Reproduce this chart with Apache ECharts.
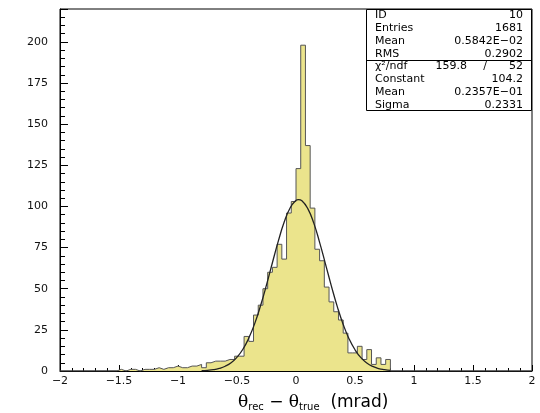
<!DOCTYPE html>
<html><head><meta charset="utf-8">
<script src="https://cdn.jsdelivr.net/npm/echarts@6/dist/echarts.min.js"></script>
<style>html,body{margin:0;padding:0;background:#fff}#c{width:540px;height:413px}</style>
</head><body><div id="c"></div>
<script>
// Histogram: 100 bins from -2 to 2
const binLow = -2;
const binWidth = 0.04;
const counts = [
  0,0,0,0,0,0,0,0,0,0,0,0,
  1,0,1,1,0,1,1,1,2,1,2,2,3,2,2,3,3,4,2,5,6,6,6,7,7,9,9,
  21,18,34,40,50,60,63,77,68,96,103,
  123,198,137,99,74,67,51,42,36,31,23,11,11,15,7,13,4,8,4,7,
  0,0,0,0,0,0,0,0,0,0,0,0,0,0,0,0,0,0,0,0,0,0,0,0,0,0,0,0,0,0
];
// Fit curve points
const fitX = [-0.8,-0.75,-0.7,-0.65,-0.6,-0.55,-0.5,-0.45,-0.4,-0.35,-0.3,-0.25,-0.2,-0.15,-0.1,-0.05,0,0.02,0.05,0.1,0.15,0.2,0.25,0.3,0.35,0.4,0.45,0.5,0.55,0.6,0.65,0.7,0.75,0.8];
const fitY = [0.2,0.4,0.8,1.6,2.9,5.0,8.4,13.2,20.0,28.8,39.8,52.3,65.8,78.9,90.5,99.1,103.7,104.2,103.5,98.7,90.0,78.2,65.0,51.6,39.1,28.3,19.5,12.9,8.1,4.9,2.8,1.5,0.8,0.4];
const xTickLabels = ['−2','−1.5','−1','−0.5','0','0.5','1','1.5','2'];
const yTickLabels = ['0','25','50','75','100','125','150','175','200'];
const statsLabels = ['ID','Entries','Mean','RMS','χ²/ndf','Constant','Mean','Sigma'];
const statsValues = ['10','1681','0.5842E−02','0.2902','52','104.2','0.2357E−01','0.2331'];
const chi2Value = '159.8';

const histData = counts.map((c, k) => [binLow + k * binWidth, c]);
histData.push([binLow + counts.length * binWidth, 0]);
const fitData = fitX.map((x, i) => [x, fitY[i]]);

const chart = echarts.init(document.getElementById('c'), null, {renderer: 'canvas'});
const F = 'DejaVu Sans';
const graphic = [
  {type: 'rect', z: 100, shape: {x: 366.5, y: 9.5, width: 165, height: 101}, style: {fill: '#fff', stroke: '#000', lineWidth: 1}},
  {type: 'line', z: 101, shape: {x1: 366.5, y1: 60.5, x2: 531.5, y2: 60.5}, style: {stroke: '#000', lineWidth: 1}}
];
statsLabels.forEach((t, i) => {
  const y = 15.5 + i * 12.75;
  graphic.push({type: 'text', z: 102, style: {text: t, x: 375, y: y, font: '11px "' + F + '"', fill: '#000', textVerticalAlign: 'middle', textAlign: 'left'}});
  graphic.push({type: 'text', z: 102, style: {text: statsValues[i], x: 523, y: y, font: '11px "' + F + '"', fill: '#000', textVerticalAlign: 'middle', textAlign: 'right'}});
});
graphic.push({type: 'text', z: 102, style: {text: chi2Value, x: 467, y: 15.5 + 4 * 12.75, font: '11px "' + F + '"', fill: '#000', textVerticalAlign: 'middle', textAlign: 'right'}});
graphic.push({type: 'text', z: 102, style: {text: '/', x: 485, y: 15.5 + 4 * 12.75, font: '11px "' + F + '"', fill: '#000', textVerticalAlign: 'middle', textAlign: 'center'}});

chart.setOption({
  animation: false,
  backgroundColor: '#fff',
  title: {
    text: '{t|θ}{s|rec}{m| − }{t|θ}{s|true}{m|  (mrad)}',
    left: 238, top: 394, padding: 0,
    textStyle: {
      fontWeight: 'normal',
      rich: {
        t: {fontFamily: 'DejaVu Serif', fontSize: 17, fontWeight: 'normal', lineHeight: 18, verticalAlign: 'top', color: '#000'},
        m: {fontFamily: F, fontSize: 17, fontWeight: 'normal', lineHeight: 18, verticalAlign: 'top', color: '#000'},
        s: {fontFamily: F, fontSize: 10, fontWeight: 'normal', lineHeight: 10, padding: [12, 0, 0, 0], verticalAlign: 'bottom', color: '#000'}
      }
    }
  },
  grid: {left: 60, right: 8, top: 9, bottom: 42, show: true, borderColor: '#000', borderWidth: 1, backgroundColor: 'transparent'},
  xAxis: {
    type: 'value', min: -2, max: 2, interval: 0.5,
    axisLine: {show: true, onZero: false, lineStyle: {color: '#000', width: 1}},
    axisTick: {show: true, inside: true, length: 6, lineStyle: {color: '#000'}},
    minorTick: {show: true, splitNumber: 5, length: 3, lineStyle: {color: '#000'}},
    splitLine: {show: false},
    axisLabel: {margin: 5, fontFamily: F, fontSize: 11, color: '#111',
      formatter: v => xTickLabels[Math.round((v + 2) / 0.5)]}
  },
  yAxis: {
    type: 'value', min: 0, max: 220, interval: 25,
    axisLine: {show: true, onZero: false, lineStyle: {color: '#000', width: 1}},
    axisTick: {show: true, inside: true, length: 8, lineStyle: {color: '#000'}},
    minorTick: {show: true, splitNumber: 5, length: 5, lineStyle: {color: '#000'}},
    splitLine: {show: false},
    axisLabel: {margin: 12, fontFamily: F, fontSize: 11, color: '#111', showMaxLabel: false,
      formatter: v => { const i = Math.round(v / 25); return (v % 25 === 0 && i < yTickLabels.length) ? yTickLabels[i] : ''; }}
  },
  series: [
    {
      type: 'line', data: histData, step: 'end', symbol: 'none',
      lineStyle: {color: '#555', width: 1},
      areaStyle: {color: '#ebe48c', opacity: 1},
      z: 2
    },
    {
      type: 'line', data: fitData, smooth: true, symbol: 'none',
      lineStyle: {color: '#222', width: 1.3},
      z: 3
    }
  ],
  graphic: graphic
});
</script>
</body></html>
